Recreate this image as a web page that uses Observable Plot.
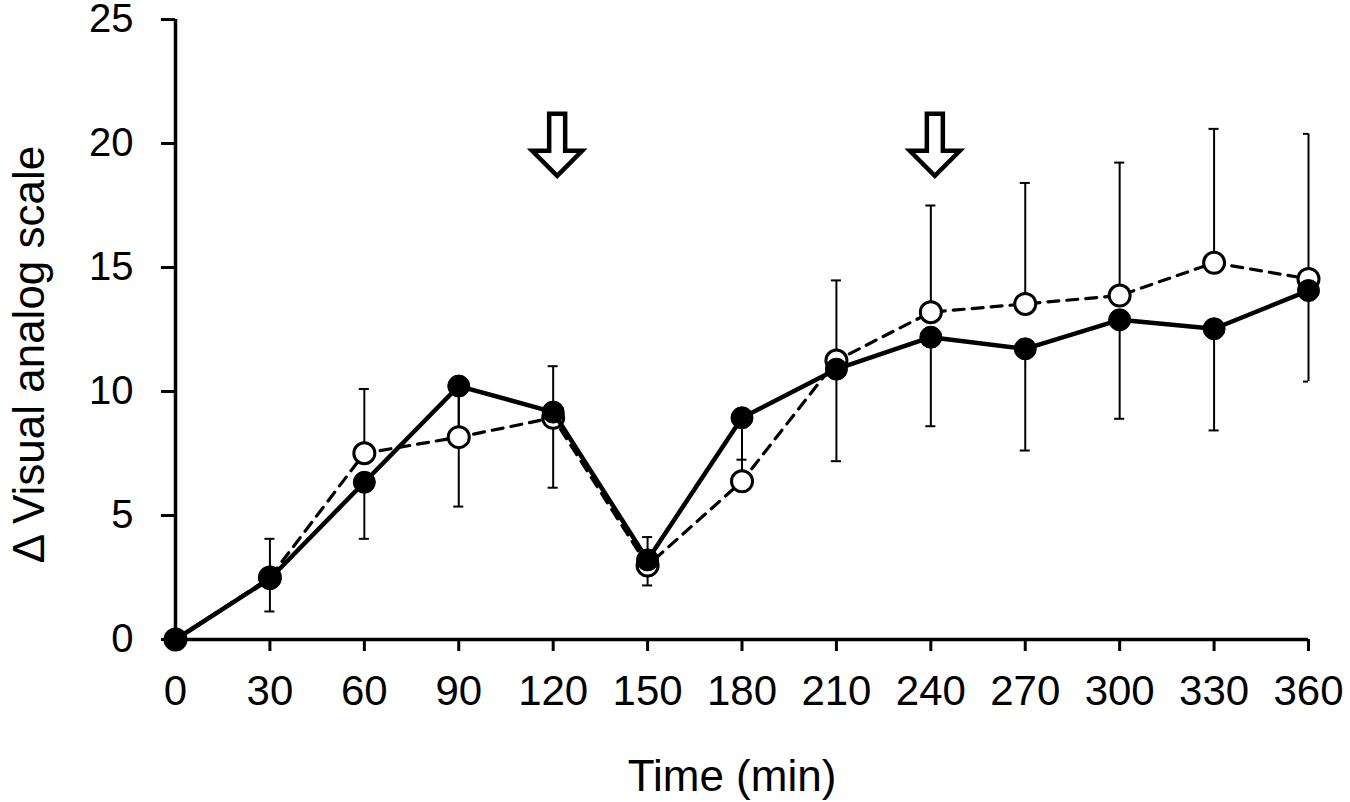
<!DOCTYPE html>
<html><head><meta charset="utf-8">
<script src="https://cdn.jsdelivr.net/npm/d3@7"></script>
<script src="https://cdn.jsdelivr.net/npm/@observablehq/plot@0.6"></script>
<style>body{margin:0;background:#fff}</style>
</head><body><div id="chart"></div>
<script>
// Time points (min)
const times = [0, 30, 60, 90, 120, 150, 180, 210, 240, 270, 300, 330, 360];
// Filled circles, solid line
const filled = [0, 2.45, 6.34, 10.22, 9.17, 3.21, 8.94, 10.9, 12.19, 11.72, 12.89, 12.53, 14.07];
// Open circles, dashed line
const open = [0, 2.5, 7.51, 8.16, 8.94, 2.98, 6.38, 11.25, 13.2, 13.53, 13.87, 15.19, 14.54];
// Upper error bar end of open series
const openUpper = [0, 4.06, 10.1, 10.2, 11.02, 4.13, 8.9, 14.48, 17.5, 18.41, 19.23, 20.59, 20.39];
// Lower error bar end of filled series
const filledLower = [0, 1.13, 4.06, 5.36, 6.12, 2.18, 7.25, 7.19, 8.6, 7.62, 8.9, 8.43, 10.4];
// Axis ticks
const xTicks = [0, 30, 60, 90, 120, 150, 180, 210, 240, 270, 300, 330, 360];
const yTicks = [0, 5, 10, 15, 20, 25];
// Arrow annotations (time, tail level)
const arrowTimes = [120, 240];
const arrowTail = 21.2;

const rows = times.map((t, i) => ({t, filled: filled[i], open: open[i], openUpper: openUpper[i], filledLower: filledLower[i]}));
const arrows = arrowTimes.map(t => ({t, y: arrowTail}));

const capHalf = 1.6; // minutes
const arrowShape = {
  draw(ctx, l) {
    const sw = 8, hw = 25, hl = 25;
    ctx.moveTo(-sw, 0);
    ctx.lineTo(-sw, -(l - hl));
    ctx.lineTo(-hw, -(l - hl));
    ctx.lineTo(0, -l);
    ctx.lineTo(hw, -(l - hl));
    ctx.lineTo(sw, -(l - hl));
    ctx.lineTo(sw, 0);
    ctx.closePath();
  }
};

const chart = Plot.plot({
  width: 1350, height: 802,
  marginLeft: 175, marginRight: 42, marginTop: 19, marginBottom: 163,
  x: {domain: [0, 360]},
  y: {domain: [0, 25]},
  style: {fontFamily: "'Liberation Sans', Arial, sans-serif", fontSize: "42px", color: "black", background: "white"},
  marks: [
    Plot.axisX({ticks: xTicks, tickSize: 12, tickPadding: 24, strokeWidth: 3, label: null, tickFormat: d => String(d)}),
    Plot.axisY({ticks: yTicks, tickSize: 14, tickPadding: 28, strokeWidth: 3, label: null, fontSize: 40, tickFormat: d => String(d)}),
    Plot.ruleX([0], {strokeWidth: 3.5}),
    Plot.ruleY([0], {strokeWidth: 3.5}),
    // error bars
    Plot.ruleX(rows, {x: "t", y1: "open", y2: "openUpper", strokeWidth: 2}),
    Plot.ruleX(rows, {x: "t", y1: "filled", y2: "filledLower", strokeWidth: 2}),
    Plot.ruleY(rows, {y: "openUpper", x1: d => d.t - capHalf, x2: d => d.t + capHalf, strokeWidth: 2, clip: true}),
    Plot.ruleY(rows, {y: "filledLower", x1: d => d.t - capHalf, x2: d => d.t + capHalf, strokeWidth: 2, clip: true}),
    // open series
    Plot.line(rows, {x: "t", y: "open", stroke: "black", strokeWidth: 3.2, strokeDasharray: "11,8"}),
    Plot.dot(rows, {x: "t", y: "open", r: 10.5, fill: "white", stroke: "black", strokeWidth: 3}),
    // filled series
    Plot.line(rows, {x: "t", y: "filled", stroke: "black", strokeWidth: 4.5}),
    Plot.dot(rows, {x: "t", y: "filled", r: 11, fill: "black", stroke: "black", strokeWidth: 1}),
    // arrows
    Plot.vector(arrows, {x: "t", y: "y", length: 62, rotate: 180, anchor: "start", shape: arrowShape, fill: "white", stroke: "black", strokeWidth: 4.5, strokeLinejoin: "miter", dx: 4}),
    // axis titles
    Plot.text(["Time (min)"], {frameAnchor: "bottom", dx: -10, dy: 151, lineAnchor: "bottom", fontSize: 44}),
    Plot.text(["Δ Visual analog scale"], {frameAnchor: "left", rotate: -90, dx: -132, dy: 25, textAnchor: "middle", lineAnchor: "bottom", fontSize: 44})
  ]
});
document.getElementById("chart").appendChild(chart);
</script>
</body></html>
